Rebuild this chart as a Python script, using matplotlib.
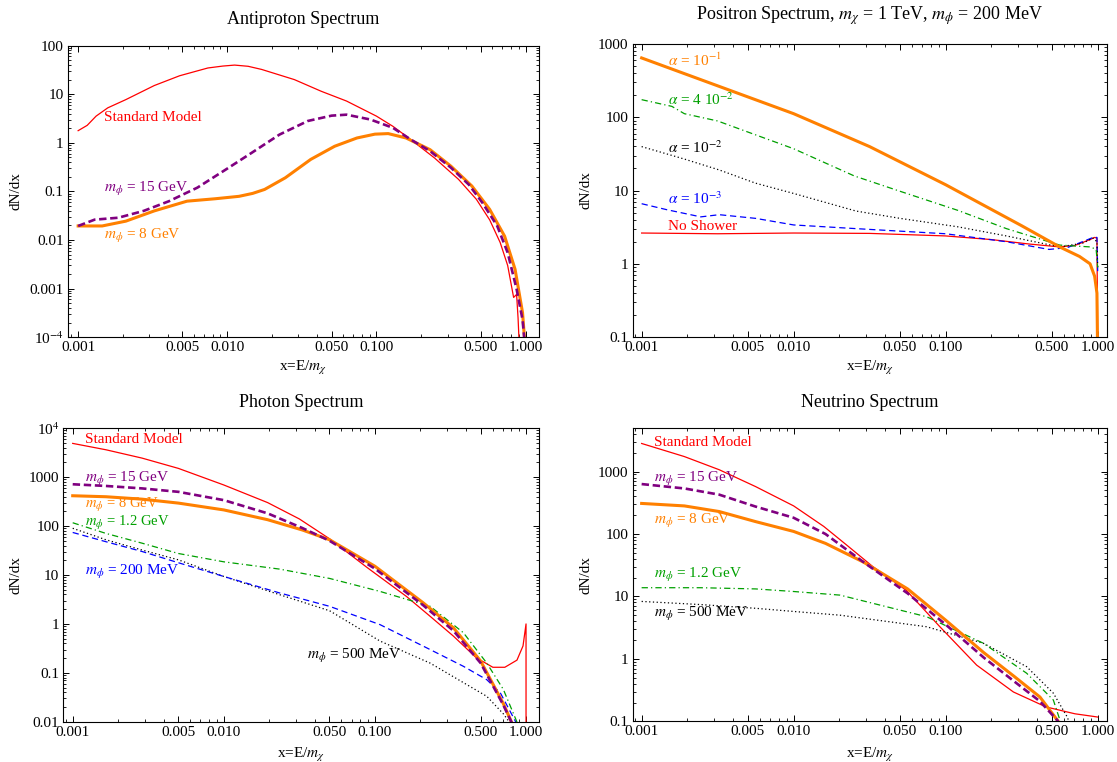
import numpy as np
from matplotlib import pyplot as plt
from matplotlib.ticker import FixedLocator, FixedFormatter, LogLocator, NullFormatter

plt.rcParams["font.family"] = ["Liberation Serif", "DejaVu Serif"]
plt.rcParams["mathtext.fontset"] = "stix"

RED = "#ff0000"
PURPLE = "#800080"
ORANGE = "#ff8000"
GREEN = "#00a000"
BLUE = "#0000ff"
BLACK = "#000000"

# x ticks shared by all panels
x_ticks = [0.001, 0.005, 0.01, 0.05, 0.1, 0.5, 1.0]
x_tick_labels = ["0.001", "0.005", "0.010", "0.050", "0.100", "0.500", "1.000"]

# ---- antiproton spectrum ----
pbar_sm_x = [0.001, 0.00115, 0.00132, 0.00158, 0.00209, 0.00324, 0.00479, 0.00741, 0.00933, 0.0112,
             0.0138, 0.0170, 0.0282, 0.0427, 0.0631, 0.1, 0.129, 0.170, 0.245, 0.355, 0.468, 0.575,
             0.676, 0.759, 0.832, 0.871, 0.891, 0.933]
pbar_sm_y = [1.78, 2.29, 3.55, 5.25, 7.76, 15.1, 24.0, 34.7, 38.0, 39.8, 37.6, 32.4, 20.0, 11.5, 7.24,
             3.55, 2.19, 1.17, 0.49, 0.178, 0.069, 0.026, 0.0089, 0.0030, 0.00066, 0.00076, 0.00025,
             0.00001]
pbar_15_x = [0.001, 0.00129, 0.00186, 0.00275, 0.00407, 0.00631, 0.00977, 0.0145, 0.0224, 0.0347,
             0.0501, 0.0631, 0.0912, 0.129, 0.170, 0.229, 0.316, 0.417, 0.513, 0.646, 0.759, 0.871,
             0.955, 1.0]
pbar_15_y = [0.0195, 0.0263, 0.0288, 0.0398, 0.0631, 0.120, 0.282, 0.617, 1.48, 2.82, 3.63, 3.80,
             3.02, 2.04, 1.17, 0.676, 0.309, 0.138, 0.0589, 0.0195, 0.0055, 0.00098, 0.00023, 0.00005]
pbar_8_x = [0.001, 0.00145, 0.00209, 0.00324, 0.00537, 0.00832, 0.0120, 0.0148, 0.0178, 0.0245,
            0.0363, 0.0525, 0.0741, 0.0977, 0.120, 0.158, 0.229, 0.316, 0.437, 0.575, 0.724, 0.851,
            0.955, 1.0]
pbar_8_y = [0.0195, 0.0195, 0.0245, 0.0398, 0.0631, 0.0708, 0.0794, 0.0912, 0.110, 0.191, 0.457,
            0.851, 1.26, 1.51, 1.55, 1.26, 0.724, 0.331, 0.129, 0.0427, 0.0120, 0.0025, 0.00032,
            0.00005]

# ---- positron spectrum ----
pos_a1_x = [0.001, 0.00316, 0.01, 0.0316, 0.1, 0.316, 0.562, 0.759, 0.891, 0.955, 0.989, 1.0]
pos_a1_y = [646, 269, 112, 39.8, 12.0, 3.31, 1.70, 1.26, 1.0, 0.676, 0.398, 0.05]
pos_a4_x = [0.001, 0.00158, 0.00191, 0.00316, 0.01, 0.0251, 0.0501, 0.120, 0.251, 0.562, 0.891, 0.977, 1.0]
pos_a4_y = [174, 141, 112, 89.1, 37.2, 15.8, 9.77, 5.37, 3.02, 1.80, 1.70, 1.58, 0.891]
pos_a2_x = [0.001, 0.00191, 0.00324, 0.00562, 0.01, 0.0257, 0.0501, 0.120, 0.251, 0.562, 0.794, 0.933,
            0.989, 1.0]
pos_a2_y = [39.8, 26.9, 19.1, 12.6, 9.12, 5.25, 4.17, 3.20, 2.40, 1.70, 1.91, 2.24, 2.0, 0.891]
pos_a3_x = [0.001, 0.00145, 0.00245, 0.00324, 0.00562, 0.01, 0.0257, 0.1, 0.251, 0.479, 0.631, 0.794,
            0.933, 0.989, 1.0]
pos_a3_y = [6.61, 5.50, 4.37, 4.68, 4.17, 3.39, 3.02, 2.57, 2.0, 1.57, 1.66, 2.0, 2.29, 2.29, 0.794]
pos_ns_x = [0.001, 0.00316, 0.01, 0.0316, 0.1, 0.2, 0.355, 0.562, 0.708, 0.891, 0.955, 0.989, 1.0]
pos_ns_y = [2.63, 2.57, 2.63, 2.60, 2.40, 2.14, 1.86, 1.70, 1.78, 2.14, 2.29, 2.24, 0.089]

# ---- photon spectrum ----
gam_sm_x = [0.001, 0.00166, 0.00288, 0.00501, 0.01, 0.0195, 0.0316, 0.0501, 0.0891, 0.162, 0.232,
            0.331, 0.468, 0.603, 0.724, 0.871, 0.955, 1.0, 1.0]
gam_sm_y = [4900, 3630, 2450, 1510, 692, 302, 140, 55.0, 14.1, 3.63, 1.43, 0.562, 0.204, 0.130, 0.130,
            0.182, 0.355, 1.0, 0.0032]
gam_heavy_x = [0.001, 0.00166, 0.00288, 0.00501, 0.01, 0.0195, 0.0331, 0.0501, 0.1, 0.209, 0.331,
               0.501, 0.708, 0.813]
gam_8_y = [417, 398, 355, 295, 214, 135, 83.2, 52.5, 15.1, 2.69, 0.832, 0.174, 0.0234, 0.0089]
gam_15_y = [716, 661, 589, 501, 339, 182, 91.2, 50.1, 13.5, 2.40, 0.724, 0.158, 0.0219, 0.0089]
gam_12_x = [0.001, 0.00166, 0.00288, 0.00501, 0.01, 0.0234, 0.0501, 0.108, 0.232, 0.385, 0.550,
            0.708, 0.883]
gam_12_y = [117, 70.8, 44.7, 27.5, 18.6, 13.2, 8.51, 4.62, 2.29, 0.661, 0.158, 0.0457, 0.0089]
gam_200_x = [0.001, 0.00166, 0.00288, 0.00501, 0.01, 0.0234, 0.0501, 0.108, 0.232, 0.385, 0.550,
             0.676, 0.871]
gam_200_y = [74.1, 47.9, 30.2, 17.8, 9.33, 4.30, 2.29, 0.968, 0.299, 0.136, 0.0724, 0.0389, 0.0089]
gam_500_x = [0.001, 0.00166, 0.00288, 0.00501, 0.01, 0.0234, 0.0501, 0.108, 0.232, 0.385, 0.550,
             0.708, 0.794]
gam_500_y = [90.2, 52.5, 32.4, 20.4, 9.33, 3.96, 1.86, 0.447, 0.158, 0.0631, 0.0331, 0.0145, 0.0089]

# ---- neutrino spectrum ----
nu_sm_x = [0.001, 0.00191, 0.00324, 0.00562, 0.01, 0.0158, 0.0224, 0.0331, 0.0550, 0.0912, 0.160,
           0.279, 0.457, 0.708, 0.933, 1.0]
nu_sm_y = [2820, 1740, 1070, 575, 282, 132, 66.1, 30.2, 12.6, 3.31, 0.794, 0.295, 0.170, 0.132,
           0.120, 0.117]
nu_heavy_x = [0.001, 0.00191, 0.00324, 0.00562, 0.01, 0.0162, 0.0288, 0.0562, 0.1, 0.178, 0.282,
              0.417, 0.550]
nu_8_y = [309, 282, 229, 158, 110, 70.8, 35.5, 13.2, 4.17, 1.26, 0.525, 0.245, 0.1]
nu_15_y = [631, 537, 427, 275, 182, 100, 35.5, 11.2, 3.55, 1.05, 0.437, 0.209, 0.1]
nu_12_x = [0.001, 0.00245, 0.00562, 0.01, 0.0202, 0.075, 0.177, 0.341, 0.511, 0.568]
nu_12_y = [13.8, 13.8, 13.2, 12.0, 10.5, 4.73, 1.78, 0.589, 0.219, 0.1]
nu_500_x = [0.001, 0.00245, 0.00562, 0.01, 0.0202, 0.075, 0.177, 0.341, 0.511, 0.631, 0.646]
nu_500_y = [8.32, 7.41, 6.46, 5.75, 5.01, 3.27, 1.78, 0.750, 0.282, 0.117, 0.1]


def style_axes(ax, xlim, ylim, yticks, yticklabels, title, title_pad, ylab_x, xlab_y):
    ax.set_xscale("log")
    ax.set_yscale("log")
    ax.set_xlim(xlim)
    ax.set_ylim(ylim)
    ax.xaxis.set_major_locator(FixedLocator(x_ticks))
    ax.xaxis.set_major_formatter(FixedFormatter(x_tick_labels))
    ax.xaxis.set_minor_locator(LogLocator(base=10, subs=(2, 3, 4, 6, 7, 8, 9), numticks=20))
    ax.xaxis.set_minor_formatter(NullFormatter())
    ax.yaxis.set_major_locator(FixedLocator(yticks))
    ax.yaxis.set_major_formatter(FixedFormatter(yticklabels))
    ax.yaxis.set_minor_locator(LogLocator(base=10, subs=np.arange(2, 10), numticks=20))
    ax.yaxis.set_minor_formatter(NullFormatter())
    ax.tick_params(which="both", direction="in", top=True, right=True, labelsize=11, pad=3)
    ax.tick_params(which="major", length=4, width=0.7)
    ax.tick_params(which="minor", length=2, width=0.6)
    for sp in ax.spines.values():
        sp.set_linewidth(0.8)
    ax.set_title(title, fontsize=13, pad=title_pad)
    ax.set_ylabel("dN/dx", fontsize=11, va="center")
    ax.yaxis.set_label_coords(ylab_x, 0.5)
    ax.set_xlabel(r"x=E/$m_\chi$", fontsize=11, va="center")
    ax.xaxis.set_label_coords(0.5, xlab_y)


def label(ax, x, y, s, color, size=11):
    ax.text(x, y, s, color=color, fontsize=size, ha="left", va="center")


fig = plt.figure(figsize=(11.17, 7.62), dpi=100)

ax1 = fig.add_axes([0.0606, 0.5574, 0.4217, 0.3827])
ax2 = fig.add_axes([0.5664, 0.5577, 0.4246, 0.3845])
ax3 = fig.add_axes([0.0567, 0.0528, 0.4256, 0.3852])
ax4 = fig.add_axes([0.5664, 0.0534, 0.4246, 0.3845])

dash_purple = (0, (2.8, 1.4))
dash_blue = (0, (5, 3))
dashdot_green = (0, (5, 2.5, 1, 2.5))
dot_black = (0, (1, 2))

# antiproton
ax1.plot(pbar_sm_x, pbar_sm_y, color=RED, lw=0.9)
ax1.plot(pbar_8_x, pbar_8_y, color=ORANGE, lw=2.2)
ax1.plot(pbar_15_x, pbar_15_y, color=PURPLE, lw=1.9, ls=dash_purple)
style_axes(ax1, (10 ** -3.07, 10 ** 0.0885), (1e-4, 100),
           [1e-4, 1e-3, 1e-2, 0.1, 1, 10, 100],
           [r"10$^{-4}$", "0.001", "0.01", "0.1", "1", "10", "100"],
           "Antiproton Spectrum", 15.5, -0.11, -0.106)
label(ax1, 0.0015, 3.3, "Standard Model", RED)
label(ax1, 0.0015, 0.11, r"$m_\phi$ = 15 GeV", PURPLE)
label(ax1, 0.0015, 0.012, r"$m_\phi$ = 8 GeV", ORANGE)

# positron
ax2.plot(pos_ns_x, pos_ns_y, color=RED, lw=0.9)
ax2.plot(pos_a3_x, pos_a3_y, color=BLUE, lw=0.9, ls=dash_blue)
ax2.plot(pos_a2_x, pos_a2_y, color=BLACK, lw=0.9, ls=dot_black)
ax2.plot(pos_a4_x, pos_a4_y, color=GREEN, lw=0.9, ls=dashdot_green)
ax2.plot(pos_a1_x, pos_a1_y, color=ORANGE, lw=2.2)
style_axes(ax2, (10 ** -3.059, 10 ** 0.061), (0.1, 1000),
           [0.1, 1, 10, 100, 1000],
           ["0.1", "1", "10", "100", "1000"],
           r"Positron Spectrum, $m_\chi$ = 1 TeV, $m_\phi$ = 200 MeV", 17.5, -0.098, -0.107)
label(ax2, 0.00148, 600, r"$\alpha$ = 10$^{-1}$", ORANGE)
label(ax2, 0.00148, 175, r"$\alpha$ = 4 10$^{-2}$", GREEN)
label(ax2, 0.00148, 39, r"$\alpha$ = 10$^{-2}$", BLACK)
label(ax2, 0.00148, 7.7, r"$\alpha$ = 10$^{-3}$", BLUE)
label(ax2, 0.00148, 3.2, "No Shower", RED)

# photon
ax3.plot(gam_sm_x, gam_sm_y, color=RED, lw=0.9)
ax3.plot(gam_500_x, gam_500_y, color=BLACK, lw=0.9, ls=dot_black)
ax3.plot(gam_200_x, gam_200_y, color=BLUE, lw=0.9, ls=dash_blue)
ax3.plot(gam_12_x, gam_12_y, color=GREEN, lw=0.9, ls=dashdot_green)
ax3.plot(gam_heavy_x, gam_8_y, color=ORANGE, lw=2.2)
ax3.plot(gam_heavy_x, gam_15_y, color=PURPLE, lw=1.9, ls=dash_purple)
style_axes(ax3, (10 ** -3.062, 10 ** 0.084), (0.01, 1e4),
           [0.01, 0.1, 1, 10, 100, 1000, 1e4],
           ["0.01", "0.1", "1", "10", "100", "1000", r"10$^4$"],
           "Photon Spectrum", 15.5, -0.0995, -0.113)
label(ax3, 0.0012, 5800, "Standard Model", RED)
label(ax3, 0.0012, 900, r"$m_\phi$ = 15 GeV", PURPLE)
label(ax3, 0.0012, 275, r"$m_\phi$ = 8 GeV", ORANGE, 10.5)
label(ax3, 0.0012, 117, r"$m_\phi$ = 1.2 GeV", GREEN, 10.5)
label(ax3, 0.0012, 11.3, r"$m_\phi$ = 200 MeV", BLUE)
label(ax3, 0.0354, 0.225, r"$m_\phi$ = 500 MeV", BLACK)

# neutrino
ax4.plot(nu_sm_x, nu_sm_y, color=RED, lw=0.9)
ax4.plot(nu_500_x, nu_500_y, color=BLACK, lw=0.9, ls=dot_black)
ax4.plot(nu_12_x, nu_12_y, color=GREEN, lw=0.9, ls=dashdot_green)
ax4.plot(nu_heavy_x, nu_8_y, color=ORANGE, lw=2.2)
ax4.plot(nu_heavy_x, nu_15_y, color=PURPLE, lw=1.9, ls=dash_purple)
style_axes(ax4, (10 ** -3.059, 10 ** 0.061), (0.1, 10 ** 3.693),
           [0.1, 1, 10, 100, 1000],
           ["0.1", "1", "10", "100", "1000"],
           "Neutrino Spectrum", 15.5, -0.098, -0.115)
label(ax4, 0.0012, 2950, "Standard Model", RED)
label(ax4, 0.0012, 765, r"$m_\phi$ = 15 GeV", PURPLE)
label(ax4, 0.0012, 163, r"$m_\phi$ = 8 GeV", ORANGE)
label(ax4, 0.0012, 21.7, r"$m_\phi$ = 1.2 GeV", GREEN)
label(ax4, 0.0012, 5.2, r"$m_\phi$ = 500 MeV", BLACK)

fig.savefig("out.png", dpi=100)
plt.close(fig)
